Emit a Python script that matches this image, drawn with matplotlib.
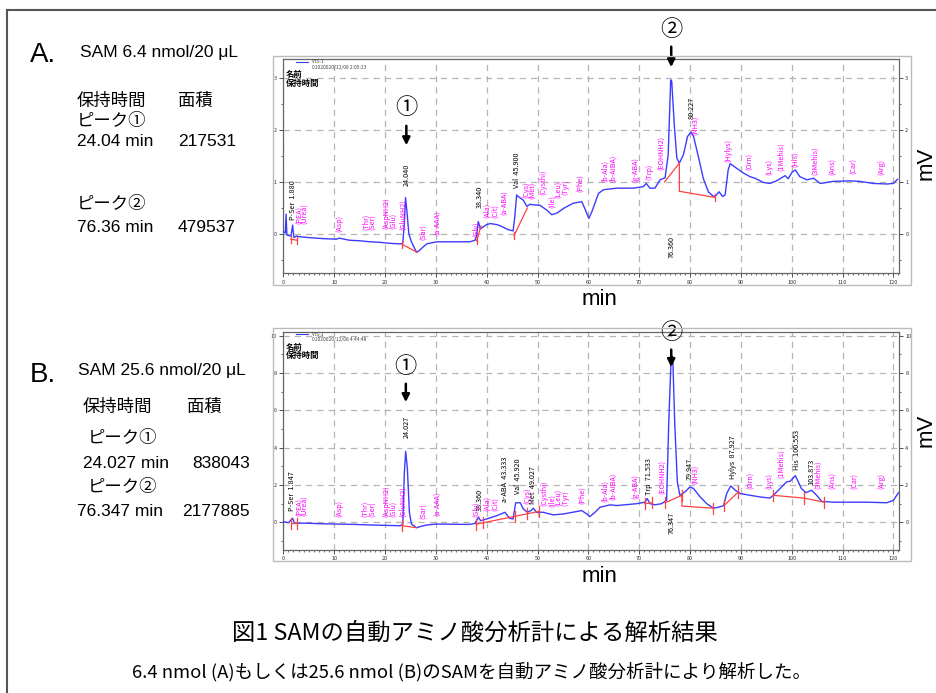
import matplotlib
matplotlib.use("Agg")
import matplotlib.pyplot as plt
from matplotlib.patches import Rectangle
from matplotlib.lines import Line2D
from matplotlib.ticker import MultipleLocator

plt.rcParams["font.family"] = ["Noto Sans CJK JP", "DejaVu Sans"]
SANS = ["Liberation Sans", "Noto Sans CJK JP", "DejaVu Sans"]
NARROW = ["Liberation Sans Narrow", "Noto Sans CJK JP", "DejaVu Sans"]

# ---- data: panel A (SAM 6.4 nmol) ----
a_time = [0.0, 0.4, 0.55, 0.7, 1.5, 1.84, 2.0, 2.1, 2.6, 3.0, 5.0, 8.0, 10.5, 11.0, 13.0,
          15.0, 17.0, 19.0, 21.0, 23.0, 23.5, 23.8, 24.04, 24.3, 24.7, 25.2, 26.2, 26.6,
          27.5, 28.2, 30.2, 33.0, 36.7, 37.7, 38.0, 38.34, 38.8, 39.5, 40.0, 40.7, 42.0,
          42.6, 44.3, 45.2, 45.5, 45.9, 46.2, 47.2, 47.9, 48.5, 49.2, 50.5, 51.8, 52.8,
          53.8, 55.1, 57.0, 58.7, 59.3, 60.1, 60.7, 62.0, 63.0, 65.6, 68.9, 70.8, 71.4,
          72.1, 73.1, 74.1, 75.1, 75.7, 76.2, 76.4, 76.9, 77.4, 77.9, 78.7, 79.5, 80.2,
          80.7, 81.7, 82.6, 83.6, 84.6, 85.2, 85.7, 86.4, 86.9, 87.5, 87.9, 89.2, 90.5,
          91.8, 92.8, 94.4, 95.7, 97.0, 98.7, 99.3, 100.1, 100.7, 101.6, 103.0, 104.3,
          105.6, 108.2, 111.5, 113.4, 116.1, 118.7, 120.0, 120.8]
a_mv = [0.05, 0.02, 0.38, -0.02, -0.04, 0.17, 0.0, -0.07, -0.04, -0.05, -0.07, -0.09, -0.10,
        -0.08, -0.12, -0.13, -0.15, -0.16, -0.18, -0.19, -0.18, 0.2, 0.70, 0.45, 0.0, -0.15,
        -0.35, -0.33, -0.25, -0.19, -0.15, -0.15, -0.15, -0.12, -0.05, 0.24, 0.10, 0.15,
        0.18, 0.20, 0.18, 0.16, 0.08, 0.06, 0.30, 0.75, 0.72, 0.65, 0.53, 0.57, 0.56, 0.55,
        0.46, 0.37, 0.40, 0.49, 0.59, 0.62, 0.49, 0.30, 0.43, 0.78, 0.85, 0.88, 0.88, 0.91,
        0.97, 0.88, 0.88, 1.04, 1.08, 1.52, 2.96, 2.93, 2.10, 1.46, 1.36, 1.52, 1.87, 1.96,
        1.87, 1.46, 1.07, 0.81, 0.72, 0.75, 0.81, 0.72, 0.75, 1.23, 1.35, 1.26, 1.17, 1.10,
        1.07, 0.99, 0.97, 1.02, 1.12, 1.06, 1.19, 1.23, 1.10, 1.04, 1.07, 0.97, 1.01, 1.02,
        1.01, 0.97, 0.96, 0.97, 1.05]
a_base = [[(1.5, -0.10), (2.7, -0.12)],
          [(23.4, -0.20), (26.3, -0.35)],
          [(38.0, -0.13), (38.9, 0.15)],
          [(45.4, -0.03), (48.0, 0.50)],
          [(75.0, 1.00), (77.9, 1.36), (77.9, 0.82), (85.0, 0.70)]]
a_ticks = [(1.5, -0.10), (2.7, -0.12), (23.4, -0.20), (38.0, -0.13), (45.4, -0.03), (85.0, 0.70)]
a_black = [(1.9, 0.26, "P-Ser  1.880"), (24.2, 0.92, "24.040"), (38.6, 0.50, "38.340"),
           (46.0, 0.88, "Val  45.900"), (80.4, 2.20, "80.227")]
a_below = [(76.4, -0.03, "76.360")]
a_magenta = [(3.2, 0.20, "(PEA)"), (4.2, 0.20, "(Urea)"), (11.1, 0.04, "(Asp)"),
             (16.2, 0.08, "(Thr)"), (17.6, 0.08, "(Ser)"), (20.3, 0.10, "(AspNH2)"),
             (21.5, 0.10, "(Glu)"), (23.6, 0.08, "(GluNH2)"), (27.7, -0.12, "(Sar)"),
             (30.5, -0.02, "(a-AAA)"), (38.0, -0.05, "(Gly)"), (40.0, 0.30, "(Ala)"),
             (41.6, 0.30, "(Cit)"), (43.6, 0.37, "(a-ABA)"), (47.9, 0.69, "(Cys)"),
             (49.2, 0.68, "(Met)"), (51.1, 0.75, "(Cysthi)"), (52.9, 0.49, "(Ile)"),
             (54.2, 0.69, "(Leu)"), (55.4, 0.75, "(Tyr)"), (58.4, 0.81, "(Phe)"),
             (63.3, 1.00, "(b-Ala)"), (64.9, 1.00, "(b-AIBA)"), (69.2, 1.00, "(g-ABA)"),
             (72.0, 1.04, "(Trp)"), (74.4, 1.23, "(EOHNH2)"), (81.2, 1.90, "(NH3)"),
             (87.5, 1.39, "(Hylys)"), (91.8, 1.23, "(Orn)"), (95.7, 1.13, "(Lys)"),
             (97.9, 1.20, "(1Mehis)"), (100.7, 1.29, "(His)"), (104.6, 1.13, "(3Mehis)"),
             (108.2, 1.13, "(Ans)"), (112.2, 1.16, "(Car)"), (117.7, 1.13, "(Arg)")]

# ---- data: panel B (SAM 25.6 nmol) ----
b_time = [0.0, 1.0, 1.84, 2.2, 3.9, 7.0, 10.5, 14.0, 17.0, 20.0, 23.0, 23.5, 23.8, 24.07,
          24.4, 24.8, 25.2, 26.2, 27.0, 28.2, 30.2, 33.0, 36.7, 37.7, 38.4, 38.8, 40.0,
          42.0, 43.6, 44.5, 45.2, 45.7, 46.6, 47.2, 48.0, 48.7, 49.2, 49.8, 51.1, 53.1,
          55.1, 58.7, 59.7, 60.3, 61.3, 62.3, 64.3, 65.6, 69.5, 71.1, 71.6, 72.1, 73.1,
          74.4, 75.4, 75.8, 76.3, 76.6, 77.0, 77.5, 78.0, 79.0, 80.0, 80.7, 82.0, 83.3,
          84.6, 85.6, 86.6, 87.2, 88.0, 88.9, 89.9, 91.8, 93.8, 95.7, 96.4, 97.7, 99.0,
          99.7, 100.7, 101.3, 101.9, 102.8, 103.9, 104.9, 105.9, 108.2, 114.8, 118.7,
          120.0, 121.0]
b_mv = [0.04, -0.02, 0.22, -0.05, -0.04, -0.07, -0.09, -0.11, -0.14, -0.16, -0.18, -0.10,
        2.60, 3.80, 2.90, 0.54, -0.09, -0.29, -0.22, -0.14, -0.09, -0.10, -0.11, -0.05,
        0.27, 0.09, 0.18, 0.36, 0.54, 0.22, 0.18, 1.05, 1.05, 0.72, 0.54, 0.63, 0.76,
        0.54, 0.54, 0.40, 0.45, 0.63, 0.45, 0.31, 0.54, 0.81, 0.94, 0.90, 1.00, 1.08,
        1.27, 1.00, 0.94, 1.00, 1.18, 5.24, 8.95, 8.86, 5.24, 2.17, 1.45, 1.63, 1.90,
        1.81, 1.36, 1.00, 0.76, 0.81, 0.90, 1.54, 1.95, 1.72, 1.54, 1.45, 1.36, 1.30,
        1.45, 1.81, 2.17, 2.20, 2.50, 2.17, 1.81, 1.59, 1.72, 1.45, 1.12, 1.08, 1.08,
        1.05, 1.18, 1.59]
b_base = [[(1.5, -0.05), (2.7, -0.05)],
          [(23.3, -0.18), (26.1, -0.28)],
          [(37.9, -0.10), (50.2, 0.58)],
          [(71.1, 1.00), (72.6, 1.05)],
          [(75.1, 1.05), (78.4, 1.45), (78.4, 0.87), (84.5, 0.76)],
          [(86.7, 0.90), (89.5, 1.63)],
          [(96.3, 1.45), (102.4, 1.30), (106.4, 1.08)]]
b_ticks = [(1.5, -0.05), (2.7, -0.05), (23.3, -0.18), (37.9, -0.10), (39.2, 0.0),
           (45.5, 0.33), (48.0, 0.46), (50.2, 0.58), (71.1, 1.00), (72.6, 1.05),
           (75.1, 1.05), (78.4, 1.45), (84.5, 0.76), (86.7, 0.90), (89.5, 1.63),
           (96.3, 1.45), (102.4, 1.30), (106.4, 1.08)]
b_black = [(1.8, 0.63, "P-Ser  1.847"), (24.3, 4.50, "24.027"), (38.6, 0.63, "38.360"),
           (43.6, 1.08, "a-ABA  43.333"), (46.2, 1.54, "Val  45.920"),
           (49.2, 1.00, "Met  49.027"), (72.0, 1.45, "Trp  71.533"), (79.9, 2.26, "79.947"),
           (88.5, 2.30, "Hylys  87.927"), (101.0, 2.80, "His  100.553"),
           (103.9, 2.00, "103.873")]
b_below = [(76.4, 0.54, "76.347")]
b_magenta = [(3.2, 0.36, "(PEA)"), (4.2, 0.36, "(Urea)"), (11.1, 0.27, "(Asp)"),
             (16.1, 0.27, "(Thr)"), (17.7, 0.27, "(Ser)"), (20.3, 0.27, "(AspNH2)"),
             (21.6, 0.27, "(Glu)"), (23.6, 0.27, "(GluNH2)"), (27.7, 0.18, "(Sar)"),
             (30.5, 0.36, "(a-AAA)"), (37.9, 0.27, "(Gly)"), (40.0, 0.63, "(Ala)"),
             (41.6, 0.63, "(Cit)"), (48.0, 1.00, "(Cys)"), (51.3, 0.90, "(Cysthi)"),
             (52.9, 0.81, "(Ile)"), (54.3, 0.90, "(Leu)"), (55.4, 0.90, "(Tyr)"),
             (58.7, 1.00, "(Phe)"), (63.3, 1.08, "(b-Ala)"), (64.9, 1.18, "(b-AIBA)"),
             (69.2, 1.27, "(g-ABA)"), (74.6, 1.54, "(EOHNH2)"), (81.2, 2.08, "(NH3)"),
             (91.9, 1.81, "(Orn)"), (95.7, 1.81, "(Lys)"), (97.9, 2.35, "(1Mehis)"),
             (105.2, 1.81, "(3Mehis)"), (108.2, 1.81, "(Ans)"), (112.5, 1.81, "(Car)"),
             (117.7, 1.81, "(Arg)")]

W, H = 937, 693
fig = plt.figure(figsize=(W / 100, H / 100), dpi=100)


def fx(px):
    return px / W


def fy(py):
    return 1 - py / H


# outer border (left and top only)
fig.add_artist(Line2D([fx(7), fx(7)], [fy(10), 0], color="#555555", lw=1.5))
fig.add_artist(Line2D([fx(7), 1], [fy(10), fy(10)], color="#555555", lw=1.5))


def panel(top, bottom, frame, t, mv, ylim, ymajor, base, ticks, tick_len,
          black, below, magenta, date, arrows):
    # screenshot frame
    fig.add_artist(Rectangle((fx(frame[0]), fy(frame[3])), fx(frame[2]) - fx(frame[0]),
                             (frame[3] - frame[1]) / H, transform=fig.transFigure,
                             fill=False, ec="#bbbbbb", lw=1))
    ax = fig.add_axes([fx(283.3), fy(bottom), (899 - 283.3) / W, (bottom - top) / H])
    ax.set_xlim(0, 121.1)
    ax.set_ylim(*ylim)
    ax.xaxis.set_major_locator(MultipleLocator(10))
    ax.xaxis.set_minor_locator(MultipleLocator(1))
    ax.yaxis.set_major_locator(MultipleLocator(ymajor))
    ax.yaxis.set_minor_locator(MultipleLocator(ymajor / 2))
    ax.tick_params(which="both", labelsize=4, colors="#333333", direction="out",
                   right=True, labelright=True, pad=1.5)
    ax.tick_params(which="major", length=3, width=0.6)
    ax.tick_params(which="minor", length=1.5, width=0.5)
    for s in ax.spines.values():
        s.set_color("#666666")
        s.set_linewidth(0.9)
    ax.grid(True, which="major", color="#b5b5b5", lw=0.9, ls=(0, (5, 4)))
    ax.set_axisbelow(True)

    ax.plot(t, mv, color="#3c3cff", lw=1.0, zorder=3)
    for seg in base:
        xs, ys = zip(*seg)
        ax.plot(xs, ys, color="#ff4040", lw=0.9, zorder=4)
    for tx, ty in ticks:
        ax.plot([tx, tx], [ty - tick_len, ty + tick_len], color="#ff4040", lw=0.9, zorder=4)

    for tx, ty, s in black:
        ax.text(tx, ty, s, rotation=90, fontsize=5.2, ha="center", va="bottom", color="black")
    for tx, ty, s in below:
        ax.text(tx, ty, s, rotation=90, fontsize=5.2, ha="center", va="top", color="black")
    for tx, ty, s in magenta:
        ax.text(tx, ty, s, rotation=90, fontsize=5.2, ha="center", va="bottom", color="#ff00ff")

    # legend header of instrument screenshot
    fig.add_artist(Line2D([fx(296), fx(308)], [fy(top + 2.5), fy(top + 2.5)], color="#3c3cff", lw=0.8))
    fig.text(fx(312), fy(top + 2.5), "VIS-1", fontsize=3.5, va="center", color="#444444")
    fig.text(fx(312), fy(top + 8), date, fontsize=3.5, va="center", color="#444444")
    fig.text(fx(286), fy(top + 15.5), "名前", fontsize=6, va="center", fontweight="bold")
    fig.text(fx(286), fy(top + 24), "保持時間", fontsize=6, va="center", fontweight="bold")

    for label, tx, cy, tail, tip in arrows:
        ax.text(tx, cy, label, fontsize=16, ha="center", va="center", clip_on=False)
        ax.annotate("", xy=(tx, tip), xytext=(tx, tail), annotation_clip=False,
                    arrowprops=dict(arrowstyle="-|>", color="black", lw=1.8, mutation_scale=11))
    return ax


panel(59, 273.3, (273, 56, 911, 285), a_time, a_mv, (-0.755, 3.36), 1,
      a_base, a_ticks, 0.07, a_black, a_below, a_magenta, "01020020/12/08 2:05:23",
      [("①", 24.2, 2.42, 2.13, 1.65), ("②", 76.3, 3.92, 3.65, 3.15)])
panel(331.7, 550, (273, 328, 911, 561), b_time, b_mv, (-1.48, 10.21), 2,
      b_base, b_ticks, 0.3, b_black, b_below, b_magenta, "01020020/12/08 4:44:48",
      [("①", 24.1, 8.32, 7.57, 6.29), ("②", 76.3, 10.15, 9.4, 8.17)])

# axis titles outside the screenshots
for yy in (299, 577):
    fig.text(fx(600), fy(yy), "min", fontsize=16, ha="center", va="center", family=SANS)
for yy in (163, 430):
    fig.text(fx(926), fy(yy), "mV", fontsize=16, ha="center", va="center", rotation=90,
             family=SANS)


def note(x, y, s, size=12.5):
    fig.text(fx(x), fy(y), s, fontsize=size, va="center", family=SANS)


# left-hand descriptions
note(30, 55, "A.", 20)
note(80, 53, "SAM 6.4 nmol/20 μL", 12.5)
note(77, 101, "保持時間")
note(178, 101, "面積")
note(77, 121, "ピーク①")
note(77, 141, "24.04 min")
note(178, 141, "217531")
note(77, 204, "ピーク②")
note(77, 228, "76.36 min")
note(178, 228, "479537")

note(30, 375, "B.", 20)
note(78, 370, "SAM 25.6 nmol/20 μL", 12.5)
note(83, 407, "保持時間")
note(187, 407, "面積")
note(88, 438, "ピーク①")
note(83, 463, "24.027 min")
note(192, 463, "838043")
note(88, 487, "ピーク②")
note(77, 511, "76.347 min")
note(182, 511, "2177885")

# caption
fig.text(fx(475), fy(633), "図1 SAMの自動アミノ酸分析計による解析結果", fontsize=16.8,
         ha="center", va="center", family=NARROW)
fig.text(fx(472), fy(672), "6.4 nmol (A)もしくは25.6 nmol (B)のSAMを自動アミノ酸分析計により解析した。",
         fontsize=13.3, ha="center", va="center", family=NARROW)

fig.savefig("out.png", dpi=100)
